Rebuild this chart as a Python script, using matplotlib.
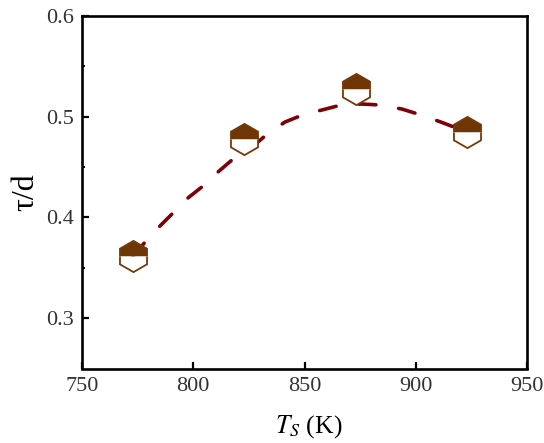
import matplotlib
matplotlib.use('Agg')
import matplotlib.pyplot as plt

plt.rcParams['font.family'] = ['Liberation Serif', 'DejaVu Serif']
plt.rcParams['mathtext.fontset'] = 'stix'

# measured points
temps = [773, 823, 873, 923]
ratio = [0.3617, 0.478, 0.528, 0.485]

# guide curve
curve_x = [772.9, 778.8, 784.6, 790.9, 797.6, 804.4, 811.1, 817.9, 829.1, 832.7, 841.2,
           850.2, 857.9, 866.4, 875.8, 884.4, 893.8, 902.4, 911.3, 923]
curve_y = [0.3617, 0.3766, 0.3905, 0.4044, 0.4193, 0.4312, 0.4451, 0.458, 0.4749, 0.4818, 0.4947,
           0.5027, 0.5067, 0.5116, 0.5126, 0.5116, 0.5076, 0.5017, 0.4947, 0.4848]

xticks = [750, 800, 850, 900, 950]
yticks = [0.3, 0.4, 0.5, 0.6]
yminor = [0.35, 0.45, 0.55]

fig = plt.figure(figsize=(5.44, 4.43), dpi=100)
ax = fig.add_axes([82 / 544, 1 - 368.5 / 443, 445 / 544, 352.5 / 443])

ax.plot(curve_x, curve_y, color='#7d0008', lw=2.6,
        linestyle=(0, (4.7, 6.38)), dash_capstyle='round', zorder=2)
ax.plot(temps, ratio, linestyle='none', marker='h', ms=22.5, fillstyle='top',
        markerfacecolor='#6f3505', markerfacecoloralt='white',
        markeredgecolor='#743a0a', markeredgewidth=1.3, zorder=3)

ax.set_xlim(750, 950)
ax.set_ylim(0.25, 0.6)
ax.set_xticks(xticks)
ax.set_yticks(yticks)
ax.set_yticks(yminor, minor=True)
ax.tick_params(axis='both', which='major', direction='in', length=5, width=1.6,
               labelsize=16, labelcolor='#333333', pad=6)
ax.tick_params(axis='y', which='minor', direction='in', length=2.5, width=1.4)
for s in ax.spines.values():
    s.set_linewidth(1.9)

ax.set_xlabel(r'$T_S$ (K)', fontsize=18.5, labelpad=11)
ax.xaxis.set_label_coords(0.51, -0.128, transform=ax.transAxes)
ax.set_ylabel('τ/d', fontsize=23, labelpad=4)

fig.savefig('out.png', dpi=100)
